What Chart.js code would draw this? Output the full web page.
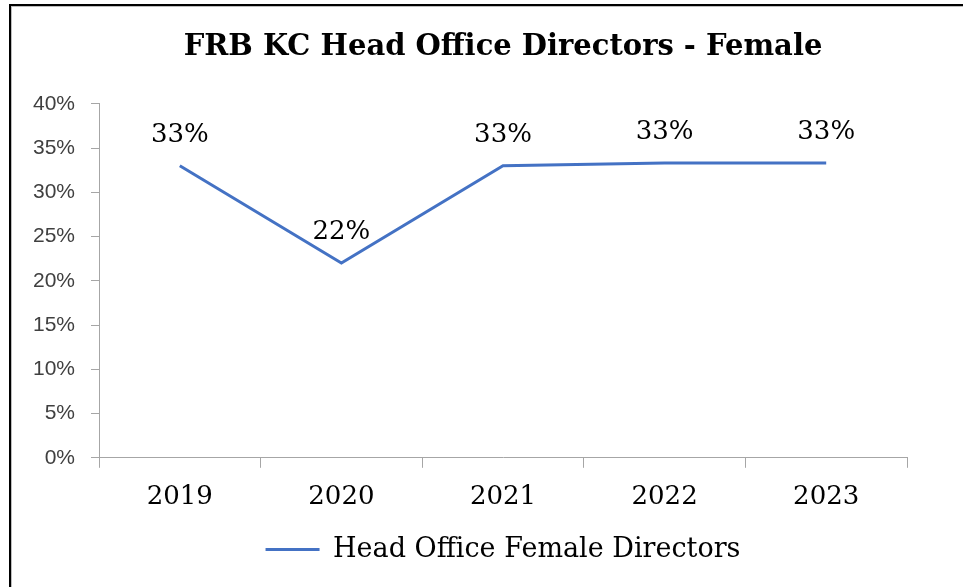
<!DOCTYPE html>
<html>
<head>
<meta charset="utf-8">
<script src="https://cdn.jsdelivr.net/npm/chart.js@4/dist/chart.umd.min.js"></script>
<style>
  html, body { margin: 0; padding: 0; background: #fff; }
  #wrap { position: relative; width: 963px; height: 587px; overflow: hidden; }
  #frame {
    position: absolute; left: 9px; top: 4px; right: -10px; bottom: -10px;
    border-top: 2px solid #000; border-left: 2px solid #000;
  }
  #frame-inner {
    position: absolute; left: 11px; top: 6px; right: -10px; bottom: -10px;
    border-top: 1px solid #bdbdbd; border-left: 1px solid #bdbdbd;
  }
  canvas { position: absolute; left: 0; top: 0; }
</style>
</head>
<body>
<div id="wrap">
  <canvas id="chartFemale" width="963" height="587"></canvas>
  <div id="frame"></div>
  <div id="frame-inner"></div>
</div>
<script>
const years = ['2019', '2020', '2021', '2022', '2023'];
const femaleShare = [0.33, 0.22, 0.33, 0.333, 0.333];
const yTicks = [0, 0.05, 0.1, 0.15, 0.2, 0.25, 0.3, 0.35, 0.4];

const SERIF = "'DejaVu Serif', Georgia, serif";
const SANS = "'Liberation Sans', Arial, sans-serif";
const LINE_COLOR = '#4472C4';
const AXIS_COLOR = '#a6a6a6';

const pct = (v) => `${Math.round(v * 100)}%`;

// draws the value above each point
const pointLabels = {
  id: 'pointLabels',
  afterDatasetsDraw(chart) {
    const { ctx } = chart;
    const meta = chart.getDatasetMeta(0);
    ctx.save();
    ctx.font = `26px ${SERIF}`;
    ctx.fillStyle = '#000';
    ctx.textAlign = 'center';
    ctx.textBaseline = 'middle';
    meta.data.forEach((pt, i) => {
      ctx.fillText(pct(femaleShare[i]), pt.x, pt.y - 31);
    });
    ctx.restore();
  },
};

new Chart(document.getElementById('chartFemale').getContext('2d'), {
  type: 'line',
  data: {
    labels: years,
    datasets: [
      {
        label: 'Head Office Female Directors',
        data: femaleShare,
        borderColor: LINE_COLOR,
        backgroundColor: LINE_COLOR,
        borderWidth: 3,
        pointRadius: 0,
        tension: 0,
      },
    ],
  },
  options: {
    responsive: false,
    animation: false,
    layout: { padding: { left: 20, right: 56, top: 0, bottom: 14 } },
    scales: {
      x: {
        offset: true,
        grid: {
          offset: true,
          drawOnChartArea: false,
          tickLength: 10,
          color: AXIS_COLOR,
        },
        border: { color: AXIS_COLOR, width: 1 },
        ticks: { color: '#000', padding: 14, font: { family: SERIF, size: 26 } },
      },
      y: {
        min: yTicks[0],
        max: yTicks[yTicks.length - 1],
        afterBuildTicks(axis) {
          axis.ticks = yTicks.map((value) => ({ value }));
        },
        afterFit(axis) {
          axis.width = 79;
        },
        grid: { drawOnChartArea: false, tickLength: 8, color: AXIS_COLOR },
        border: { color: AXIS_COLOR, width: 1 },
        ticks: {
          color: '#404040',
          padding: 16,
          font: { family: SANS, size: 21 },
          callback: (value) => pct(value),
        },
      },
    },
    plugins: {
      title: {
        display: true,
        fullSize: false,
        text: 'FRB KC Head Office Directors - Female',
        color: '#000',
        font: { family: SERIF, size: 29, weight: 'bold' },
        padding: { top: 30, bottom: 39 },
      },
      legend: {
        position: 'bottom',
        fullSize: false,
        labels: {
          color: '#000',
          font: { family: SERIF, size: 27 },
          boxWidth: 54,
          boxHeight: 3,
          padding: 9,
          generateLabels(chart) {
            return Chart.defaults.plugins.legend.labels.generateLabels(chart).map((item) => ({
              ...item,
              lineWidth: 0,
              fillStyle: LINE_COLOR,
            }));
          },
        },
      },
      tooltip: { enabled: false },
    },
  },
  plugins: [pointLabels],
});
</script>
</body>
</html>
